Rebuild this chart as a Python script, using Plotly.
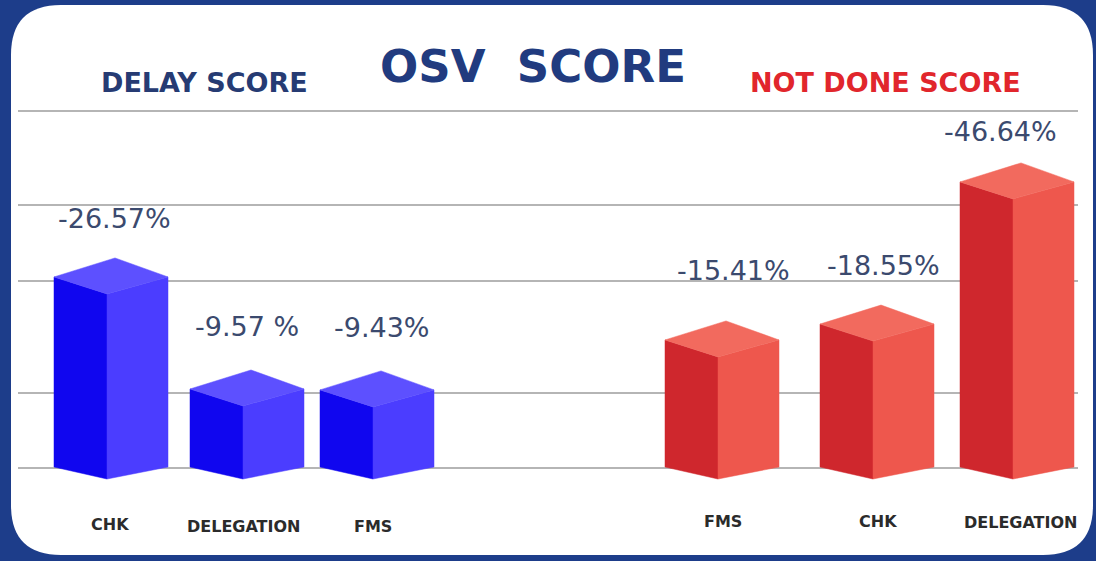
import plotly.graph_objects as go

# ---------------- data ----------------
delay_categories = ["CHK", "DELEGATION", "FMS"]
delay_values = [-26.57, -9.57, -9.43]
delay_labels = ["-26.57%", "-9.57 %", "-9.43%"]

notdone_categories = ["FMS", "CHK", "DELEGATION"]
notdone_values = [-15.41, -18.55, -46.64]
notdone_labels = ["-15.41%", "-18.55%", "-46.64%"]

title_text = "OSV  SCORE"
left_title = "DELAY SCORE"
right_title = "NOT DONE SCORE"

# ---------------- layout constants ----------------
W, H = 1096, 561
BASE_PX = 467              # pixel row of the bar bottoms
# value-axis calibration (pixels per % and value at the baseline)
BLUE_K, BLUE_BASE = 6.59, -2.27
RED_K, RED_BASE = 5.06, -9.7

delay_x = [107, 243, 373]      # front-edge x of each prism
notdone_x = [718, 873, 1013]
LEFT_W, RIGHT_W = 53, 61
DT_FRONT, DT_BACK, DB = 17, 19, 12   # isometric depth offsets (px)

delay_lab_dx = [7, 4, 9]
delay_lab_dy = [39, 43, 43]
notdone_lab_dx = [15, 10, -13]
notdone_lab_dy = [50, 40, 31]
label_y_px = [524, 526, 526, 521, 521, 522]

BG = "#1d3d8a"
BLUE_COLS = ("#1006ef", "#4b3dff", "#5d50ff")
RED_COLS = ("#cf272d", "#ee574d", "#f26a5e")
NAVY = "#213b7f"
VAL_COL = "#3b4a6e"


def axis_range(k, base):
    return [base - (H - BASE_PX) / k, base + BASE_PX / k]


fig = go.Figure()


def add_prism(xc, value, k, base, cols, yaxis):
    m = abs(value)
    xl, xr = xc - LEFT_W, xc + RIGHT_W
    dtf, dtb, db = DT_FRONT / k, DT_BACK / k, DB / k
    faces = [
        ([xl, xc, xc, xl, xl], [m, m - dtf, base - db, base, m], cols[0]),
        ([xc, xr, xr, xc, xc], [m - dtf, m, base, base - db, m - dtf], cols[1]),
        ([xl, xc, xr, xl + xr - xc, xl], [m, m - dtf, m, m + dtb, m], cols[2]),
    ]
    for xs, ys, c in faces:
        fig.add_trace(go.Scatter(
            x=xs, y=ys, mode="lines", fill="toself", fillcolor=c,
            line=dict(width=0.5, color=c), hoverinfo="skip",
            showlegend=False, yaxis=yaxis))


for xc, v in zip(delay_x, delay_values):
    add_prism(xc, v, BLUE_K, BLUE_BASE, BLUE_COLS, "y")
for xc, v in zip(notdone_x, notdone_values):
    add_prism(xc, v, RED_K, RED_BASE, RED_COLS, "y2")

annotations = []
val_font = dict(family="DejaVu Sans", size=27, color=VAL_COL)
for xc, v, lab, dx, dy in zip(delay_x, delay_values, delay_labels,
                              delay_lab_dx, delay_lab_dy):
    annotations.append(dict(x=xc, y=abs(v) + DT_BACK / BLUE_K, xref="x", yref="y",
                            text=lab, showarrow=False, font=val_font,
                            xshift=dx, yshift=dy, yanchor="middle"))
for xc, v, lab, dx, dy in zip(notdone_x, notdone_values, notdone_labels,
                              notdone_lab_dx, notdone_lab_dy):
    annotations.append(dict(x=xc, y=abs(v) + DT_BACK / RED_K, xref="x", yref="y2",
                            text=lab, showarrow=False, font=val_font,
                            xshift=dx, yshift=dy, yanchor="middle"))

cat_font = dict(family="DejaVu Sans", size=16, color="#2b2b2b")
cat_shift = [3, 0, 0, 5, 5, 7]
for i, (xc, cat) in enumerate(zip(delay_x + notdone_x,
                                  delay_categories + notdone_categories)):
    annotations.append(dict(x=xc, y=1 - label_y_px[i] / H, xref="x", yref="paper",
                            text="<b>" + cat + "</b>", showarrow=False,
                            font=cat_font, xshift=cat_shift[i], yanchor="middle"))

annotations.append(dict(x=533, y=1 - 66 / H, xref="x", yref="paper",
                        text="<b>" + title_text + "</b>", showarrow=False,
                        font=dict(family="DejaVu Sans", size=45, color=NAVY),
                        yanchor="middle"))
annotations.append(dict(x=204, y=1 - 82 / H, xref="x", yref="paper",
                        text="<b>" + left_title + "</b>", showarrow=False,
                        font=dict(family="DejaVu Sans", size=27, color="#263b73"),
                        yanchor="middle"))
annotations.append(dict(x=885, y=1 - 82 / H, xref="x", yref="paper",
                        text="<b>" + right_title + "</b>", showarrow=False,
                        font=dict(family="DejaVu Sans", size=27, color="#e1262c"),
                        yanchor="middle"))


def rounded_rect(x0, y0, x1, y1, r):
    # pixel coords (y down) -> paper coords
    def P(x, y):
        return f"{x / W:.5f},{1 - y / H:.5f}"
    return (f"M {P(x0 + r, y0)} L {P(x1 - r, y0)} "
            f"Q {P(x1, y0)} {P(x1, y0 + r)} L {P(x1, y1 - r)} "
            f"Q {P(x1, y1)} {P(x1 - r, y1)} L {P(x0 + r, y1)} "
            f"Q {P(x0, y1)} {P(x0, y1 - r)} L {P(x0, y0 + r)} "
            f"Q {P(x0, y0)} {P(x0 + r, y0)} Z")


shapes = [dict(type="path", xref="paper", yref="paper",
               path=rounded_rect(11, 5, 1093, 555, 50),
               fillcolor="white", line=dict(width=0), layer="below")]
for gy in [111, 205, 281, 393, 468]:
    shapes.append(dict(type="line", xref="paper", yref="paper",
                       x0=18 / W, x1=1078 / W, y0=1 - gy / H, y1=1 - gy / H,
                       line=dict(color="#9c9c9c", width=1.5), layer="below"))

hidden = dict(showgrid=False, zeroline=False, showticklabels=False,
              showline=False, ticks="", fixedrange=True)
fig.update_layout(
    width=W, height=H,
    margin=dict(l=0, r=0, t=0, b=0),
    paper_bgcolor=BG, plot_bgcolor="rgba(0,0,0,0)",
    xaxis=dict(range=[0, W], **hidden),
    yaxis=dict(range=axis_range(BLUE_K, BLUE_BASE), **hidden),
    yaxis2=dict(range=axis_range(RED_K, RED_BASE), overlaying="y", **hidden),
    shapes=shapes, annotations=annotations, showlegend=False,
)

fig.write_html(
    "out.html",
    config={"displayModeBar": False},
    post_script=("document.body.style.margin='0';"
                 "document.body.style.overflow='hidden';"
                 f"document.body.style.background='{BG}';"),
)
